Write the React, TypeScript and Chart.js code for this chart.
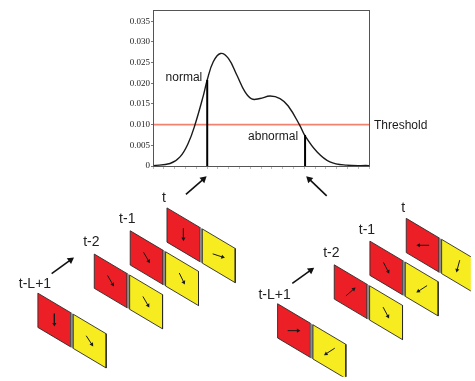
import React, { useEffect, useRef } from 'react';
import { Chart, registerables } from 'chart.js';

Chart.register(...registerables);

const CANVAS_W = 475;
const CANVAS_H = 381;

// ---------- Density plot data ----------
const DENSITY_X = [0, 7.9, 12.5, 16.3, 19.4, 23.3, 25.1, 27.9, 31.3, 34.9, 38.8, 42.6, 45.7, 49.5, 54.2, 58.8, 62.6, 67.9, 70.4, 75.8, 81.9, 89.7, 100];
const DENSITY_Y = [0.0001, 0.0006, 0.0022, 0.0055, 0.0099, 0.0170, 0.0208, 0.0252, 0.0272, 0.0260, 0.0220, 0.0179, 0.0162, 0.0163, 0.0169, 0.0163, 0.0145, 0.0099, 0.0073, 0.0035, 0.0010, 0.0002, 0.0001];
const THRESHOLD = 0.01;
const NORMAL_X = 25.1;
const NORMAL_TOP = 0.0208;
const ABNORMAL_X = 70.4;
const ABNORMAL_TOP = 0.0075;
const Y_TICKS = [0, 0.005, 0.01, 0.015, 0.02, 0.025, 0.03, 0.035];
const Y_TICK_LABELS = ['0', '0.005', '0.010', '0.015', '0.020', '0.025', '0.030', '0.035'];
const Y_MAX = 0.0377;

// ---------- Diagram data ----------
const FRAME_LABELS = ['t-L+1', 't-2', 't-1', 't'];
const LEFT_FRAME_X = [34.3, 91.7, 128.3, 165.7];
const LEFT_FRAME_Y = [295.5, 255.5, 231.7, 208.3];
const LEFT_RED_ANGLES = [90, 60, 60, 90];
const LEFT_YELLOW_ANGLES = [57, 60, 64, 18];
const RIGHT_FRAME_X = [278.3, 336, 372.3, 409.3];
const RIGHT_FRAME_Y = [306.3, 266.5, 242.3, 219];
const RIGHT_RED_ANGLES = [0, -41, 63, 180];
const RIGHT_YELLOW_ANGLES = [147, 62, 147, 105];
const LABEL_DY = [-9, -12, -11.5, -10];
// big arrows: [tailX, tailY, tipX, tipY]
const BIG_ARROWS = [
  [48.3, 275.5, 71, 259],
  [185, 194.5, 206, 176],
  [293.3, 285.5, 315.5, 269.5],
  [328.3, 196, 307.5, 176],
];

const RED = '#ED1F26';
const YELLOW = '#F6EC20';
const EDGE = '#2b2b2b';
const CELL_W = 33.5;
const CELL_H = 35;
const CELL_DROP = 20;
const CELL_GAP = 2.5;

function arrowDataset(x1: number, y1: number, x2: number, y2: number, r: number, w: number, color: string) {
  const len = Math.hypot(x2 - x1, y2 - y1);
  const ux = (x2 - x1) / len;
  const uy = (y2 - y1) / len;
  const bx = x2 - ux * r;
  const by = y2 - uy * r;
  const ang = (Math.atan2(uy, ux) * 180) / Math.PI;
  return {
    data: [{ x: x1, y: y1 }, { x: bx, y: by }],
    borderColor: color,
    borderWidth: w,
    pointRadius: [0, r],
    pointStyle: 'triangle',
    pointRotation: [0, ang + 90],
    pointBackgroundColor: color,
    pointBorderColor: color,
    pointBorderWidth: 0,
    fill: false,
    tension: 0,
  };
}

function polyDataset(pts: number[][], fillColor: string, edge: string, bw: number) {
  const data = pts.concat([pts[0]]).map(([x, y]) => ({ x, y }));
  return {
    data,
    borderColor: edge,
    borderWidth: bw,
    backgroundColor: fillColor,
    fill: 'shape',
    pointRadius: 0,
    tension: 0,
  };
}

function cellPoints(x0: number, y0: number, w: number) {
  const drop = (CELL_DROP * w) / CELL_W;
  return [
    [x0, y0],
    [x0 + w, y0 + drop],
    [x0 + w, y0 + drop + CELL_H],
    [x0, y0 + CELL_H],
  ];
}

function buildDiagram(canvas: HTMLCanvasElement) {
  const datasets: any[] = [];
  const labels: { text: string; x: number; y: number }[] = [];
  const groups = [
    { xs: LEFT_FRAME_X, ys: LEFT_FRAME_Y, red: LEFT_RED_ANGLES, yel: LEFT_YELLOW_ANGLES },
    { xs: RIGHT_FRAME_X, ys: RIGHT_FRAME_Y, red: RIGHT_RED_ANGLES, yel: RIGHT_YELLOW_ANGLES },
  ];
  groups.forEach((g) => {
    g.xs.forEach((x0, i) => {
      const y0 = g.ys[i];
      const yx = x0 + CELL_W + CELL_GAP;
      const yy = y0 + (CELL_DROP * (CELL_W + CELL_GAP)) / CELL_W;
      const sx = x0 + CELL_W;
      const sy = y0 + CELL_DROP;
      datasets.push(polyDataset(cellPoints(x0, y0, CELL_W), RED, EDGE, 0.9));
      datasets.push(polyDataset(cellPoints(sx, sy, CELL_GAP), '#8c8c8c', '#8c8c8c', 0.3));
      datasets.push(polyDataset(cellPoints(yx, yy, CELL_W), YELLOW, EDGE, 0.9));
      const cells = [
        [x0, y0, g.red[i]],
        [yx, yy, g.yel[i]],
      ];
      cells.forEach(([cx0, cy0, a]) => {
        const cx = cx0 + CELL_W / 2;
        const cy = cy0 + CELL_DROP / 2 + CELL_H / 2;
        const rad = (a * Math.PI) / 180;
        const half = 6.5;
        datasets.push(
          arrowDataset(cx - Math.cos(rad) * half, cy - Math.sin(rad) * half, cx + Math.cos(rad) * half, cy + Math.sin(rad) * half, 2.4, 1, '#1a1a1a')
        );
      });
      labels.push({ text: FRAME_LABELS[i], x: x0 - 3, y: y0 + LABEL_DY[i] });
    });
  });
  BIG_ARROWS.forEach(([a, b, c, d]) => datasets.push(arrowDataset(a, b, c, d, 4.2, 1.6, '#111')));
  datasets.reverse();

  const labelPlugin = {
    id: 'frameLabels',
    afterDatasetsDraw(chart: any) {
      const { ctx, scales } = chart;
      ctx.save();
      ctx.font = '14px "Liberation Sans", Arial, sans-serif';
      ctx.fillStyle = '#222';
      ctx.textAlign = 'center';
      ctx.textBaseline = 'middle';
      labels.forEach((l) => {
        ctx.fillText(l.text, scales.x.getPixelForValue(l.x), scales.y.getPixelForValue(l.y));
      });
      ctx.restore();
    },
  };

  return new Chart(canvas, {
    type: 'line',
    data: { datasets },
    options: {
      animation: false,
      responsive: false,
      events: [],
      layout: { padding: 0 },
      plugins: { legend: { display: false }, tooltip: { enabled: false } },
      scales: {
        x: { type: 'linear', min: 0, max: CANVAS_W, display: false },
        y: { type: 'linear', min: 0, max: CANVAS_H, reverse: true, display: false },
      },
    } as any,
    plugins: [labelPlugin],
  });
}

function buildDensity(canvas: HTMLCanvasElement) {
  const curve = DENSITY_X.map((x, i) => ({ x, y: DENSITY_Y[i] }));
  const framePlugin = {
    id: 'frameBox',
    afterDraw(chart: any) {
      const { ctx, chartArea, scales } = chart;
      ctx.save();
      ctx.strokeStyle = '#555';
      ctx.lineWidth = 1;
      ctx.strokeRect(chartArea.left + 0.5, chartArea.top + 0.5, chartArea.right - chartArea.left, chartArea.bottom - chartArea.top);
      ctx.font = '12px "Liberation Sans", Arial, sans-serif';
      ctx.fillStyle = '#1a1a1a';
      ctx.textBaseline = 'middle';
      ctx.textAlign = 'right';
      ctx.fillText('normal', scales.x.getPixelForValue(NORMAL_X) - 5, scales.y.getPixelForValue(NORMAL_TOP) - 2);
      ctx.fillText('abnormal', scales.x.getPixelForValue(ABNORMAL_X) - 7, scales.y.getPixelForValue(ABNORMAL_TOP) + 2);
      ctx.textAlign = 'left';
      ctx.fillText('Threshold', chartArea.right + 5, scales.y.getPixelForValue(THRESHOLD) + 1);
      ctx.restore();
    },
  };
  return new Chart(canvas, {
    type: 'line',
    data: {
      datasets: [
        {
          data: [{ x: NORMAL_X, y: 0 }, { x: NORMAL_X, y: NORMAL_TOP }],
          borderColor: '#000',
          borderWidth: 2,
          pointRadius: 0,
        },
        {
          data: [{ x: ABNORMAL_X, y: 0 }, { x: ABNORMAL_X, y: ABNORMAL_TOP }],
          borderColor: '#000',
          borderWidth: 2,
          pointRadius: 0,
        },
        {
          data: curve,
          borderColor: '#1a1a1a',
          borderWidth: 1.4,
          pointRadius: 0,
          tension: 0.4,
        },
        {
          data: [{ x: 0, y: THRESHOLD }, { x: 100, y: THRESHOLD }],
          borderColor: '#F2826F',
          borderWidth: 1.6,
          pointRadius: 0,
        },
      ],
    },
    options: {
      animation: false,
      responsive: false,
      events: [],
      layout: { padding: { left: 123, right: 106, top: 10, bottom: 210 } },
      plugins: { legend: { display: false }, tooltip: { enabled: false } },
      scales: {
        x: {
          type: 'linear',
          min: 0,
          max: 100,
          ticks: { display: false, stepSize: 5 },
          grid: { drawOnChartArea: false, tickLength: 3, color: '#bbb' },
          border: { color: '#555' },
          afterFit: (s: any) => {
            s.height = 5;
          },
        },
        y: {
          type: 'linear',
          min: 0,
          max: Y_MAX,
          afterBuildTicks: (s: any) => {
            s.ticks = Y_TICKS.map((v) => ({ value: v }));
          },
          ticks: {
            font: { family: '"Liberation Serif", "DejaVu Serif", serif', size: 9 },
            color: '#222',
            padding: 1,
            callback: (_v: any, i: number) => Y_TICK_LABELS[i],
          },
          grid: { drawOnChartArea: false, tickLength: 2, color: '#777' },
          border: { color: '#555' },
          afterFit: (s: any) => {
            s.width = 30;
          },
        },
      },
    } as any,
    plugins: [framePlugin],
  });
}

export default function App() {
  const diagRef = useRef<HTMLCanvasElement>(null);
  const plotRef = useRef<HTMLCanvasElement>(null);
  useEffect(() => {
    document.body.style.margin = '0';
    const charts: Chart[] = [];
    if (diagRef.current) charts.push(buildDiagram(diagRef.current));
    if (plotRef.current) charts.push(buildDensity(plotRef.current));
    return () => charts.forEach((c) => c.destroy());
  }, []);
  return (
    <div style={{ position: 'fixed', left: 0, top: 0, width: CANVAS_W, height: CANVAS_H, background: '#fff', overflow: 'hidden' }}>
      <canvas ref={diagRef} width={CANVAS_W} height={CANVAS_H} style={{ position: 'absolute', left: 0, top: 0 }} />
      <canvas ref={plotRef} width={CANVAS_W} height={CANVAS_H} style={{ position: 'absolute', left: 0, top: 0 }} />
    </div>
  );
}
